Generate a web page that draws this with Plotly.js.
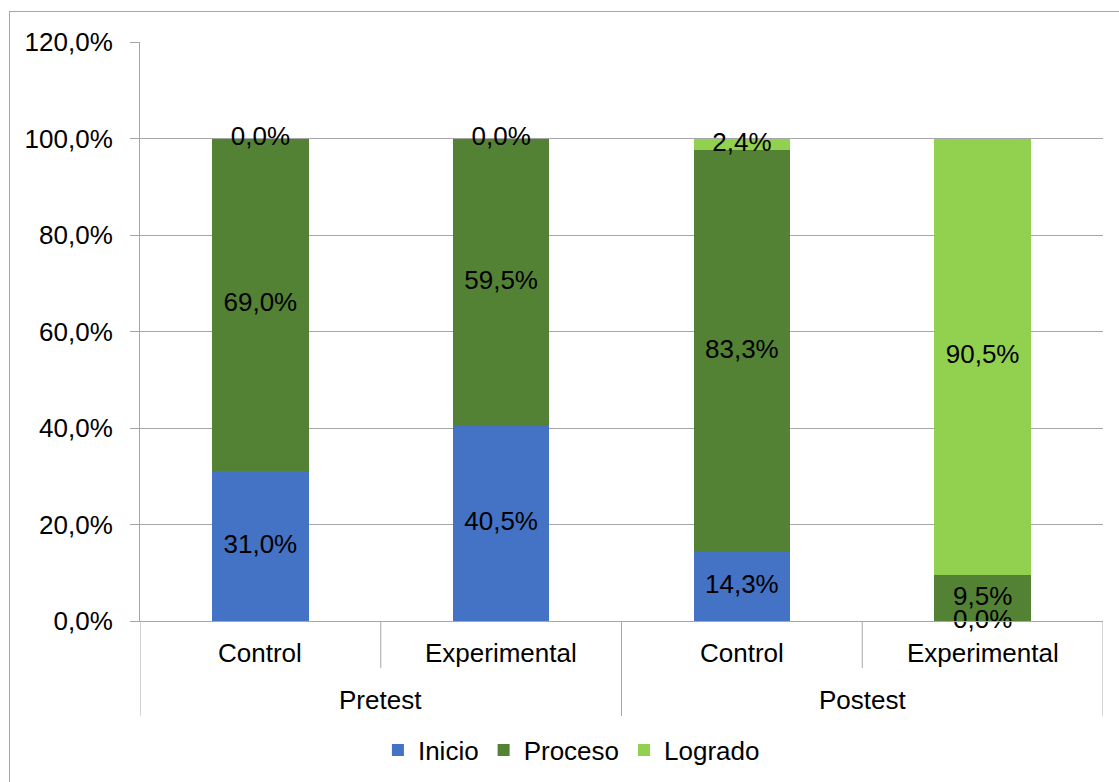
<!DOCTYPE html>
<html>
<head>
<meta charset="utf-8">
<script src="https://cdn.plot.ly/plotly-3.0.1.min.js"></script>
<style>
  html, body { margin: 0; padding: 0; background: #ffffff; }
  #chart { position: absolute; left: 0; top: 0; width: 1119px; height: 782px; }
  #frame { position: absolute; left: 9px; top: 11px; width: 1200px; height: 900px;
           border: 1px solid #a6a6a6; pointer-events: none; }
</style>
</head>
<body>
<div id="chart"></div>
<div id="frame"></div>
<script>
const groups = ["Pretest", "Pretest", "Postest", "Postest"];
const categories = ["Control", "Experimental", "Control", "Experimental"];
const seriesNames = ["Inicio", "Proceso", "Logrado"];
const inicio = [0.310, 0.405, 0.143, 0.000];
const proceso = [0.690, 0.595, 0.833, 0.095];
const logrado = [0.000, 0.000, 0.024, 0.905];
const colors = ["#4472C4", "#548235", "#92D050"];
const yTicks = [0, 0.2, 0.4, 0.6, 0.8, 1.0, 1.2];

const series = [inicio, proceso, logrado];
const fmt = v => (v * 100).toFixed(1).replace('.', ',') + '%';
const FONT = "Liberation Sans, Arial, sans-serif";
const FS = 26;
const GRAY = '#a6a6a6';

// index positions of the categories on the x axis
const xIdx = categories.map((_, i) => i);

const traces = [];
series.forEach((vals, i) => {
  traces.push({
    type: 'bar',
    name: seriesNames[i],
    x: xIdx,
    y: vals,
    marker: { color: colors[i], line: { width: 0 } },
    hoverinfo: 'skip'
  });
});

// labels at middle of each stacked segment
const lx = [], ly = [], lt = [];
for (let c = 0; c < categories.length; c++) {
  let base = 0;
  series.forEach(vals => {
    lx.push(xIdx[c]);
    ly.push(base + vals[c] / 2);
    lt.push(fmt(vals[c]));
    base += vals[c];
  });
}
traces.push({
  type: 'scatter',
  mode: 'text',
  x: lx,
  y: ly,
  text: lt,
  textposition: 'middle center',
  textfont: { family: FONT, size: FS, color: '#000000' },
  showlegend: false,
  hoverinfo: 'skip',
  cliponaxis: false
});

// hierarchical category axis: labels and dividers
const annotations = [];
const shapes = [];
const plotH = 782 - 42 - 161;
const innerY = -32 / plotH, outerY = -79 / plotH;
const innerTick = -47 / plotH, outerTick = -95 / plotH;
categories.forEach((c, i) => {
  annotations.push({
    x: xIdx[i], y: innerY, xref: 'x', yref: 'paper',
    text: c, showarrow: false, yanchor: 'middle', xanchor: 'center',
    font: { family: FONT, size: FS, color: '#000000' }
  });
});
const groupNames = [...new Set(groups)];
groupNames.forEach(g => {
  const idx = xIdx.filter(i => groups[i] === g);
  const lo = Math.min(...idx), hi = Math.max(...idx);
  annotations.push({
    x: (lo + hi) / 2, y: outerY, xref: 'x', yref: 'paper',
    text: g, showarrow: false, yanchor: 'middle', xanchor: 'center',
    font: { family: FONT, size: FS, color: '#000000' }
  });
  shapes.push({ type: 'line', xref: 'x', yref: 'paper', x0: lo - 0.5, x1: lo - 0.5,
    y0: 0, y1: outerTick, line: { color: GRAY, width: 1 } });
  shapes.push({ type: 'line', xref: 'x', yref: 'paper', x0: hi + 0.5, x1: hi + 0.5,
    y0: 0, y1: outerTick, line: { color: GRAY, width: 1 } });
  for (let k = lo; k < hi; k++) {
    shapes.push({ type: 'line', xref: 'x', yref: 'paper', x0: k + 0.5, x1: k + 0.5,
      y0: 0, y1: innerTick, line: { color: GRAY, width: 1 } });
  }
});

const layout = {
  width: 1119,
  height: 782,
  margin: { l: 140, r: 16, t: 42, b: 161, autoexpand: false },
  paper_bgcolor: '#ffffff',
  plot_bgcolor: '#ffffff',
  barmode: 'stack',
  bargap: 0.6,
  separators: ',.',
  font: { family: FONT, size: FS, color: '#000000' },
  showlegend: true,
  legend: {
    orientation: 'h',
    x: 0.448, xanchor: 'center',
    y: -0.223, yanchor: 'middle',
    font: { family: FONT, size: FS, color: '#000000' },
    itemwidth: 30,
    traceorder: 'normal'
  },
  annotations: annotations,
  shapes: shapes,
  xaxis: {
    type: 'linear',
    range: [-0.5, categories.length - 0.5],
    showgrid: false,
    showline: true,
    linecolor: GRAY,
    linewidth: 1,
    ticks: '',
    showticklabels: false,
    zeroline: false,
    automargin: false,
    fixedrange: true
  },
  yaxis: {
    range: [0, 1.2],
    tickvals: yTicks,
    tickformat: '.1%',
    showgrid: true,
    gridcolor: GRAY,
    gridwidth: 1,
    showline: true,
    linecolor: GRAY,
    linewidth: 1,
    ticks: 'outside',
    ticklen: 9,
    tickcolor: GRAY,
    ticklabelstandoff: 12,
    zeroline: false,
    automargin: false,
    tickfont: { family: FONT, size: FS, color: '#000000' },
    fixedrange: true
  }
};

Plotly.newPlot('chart', traces, layout, { displayModeBar: false, staticPlot: true });
</script>
</body>
</html>
